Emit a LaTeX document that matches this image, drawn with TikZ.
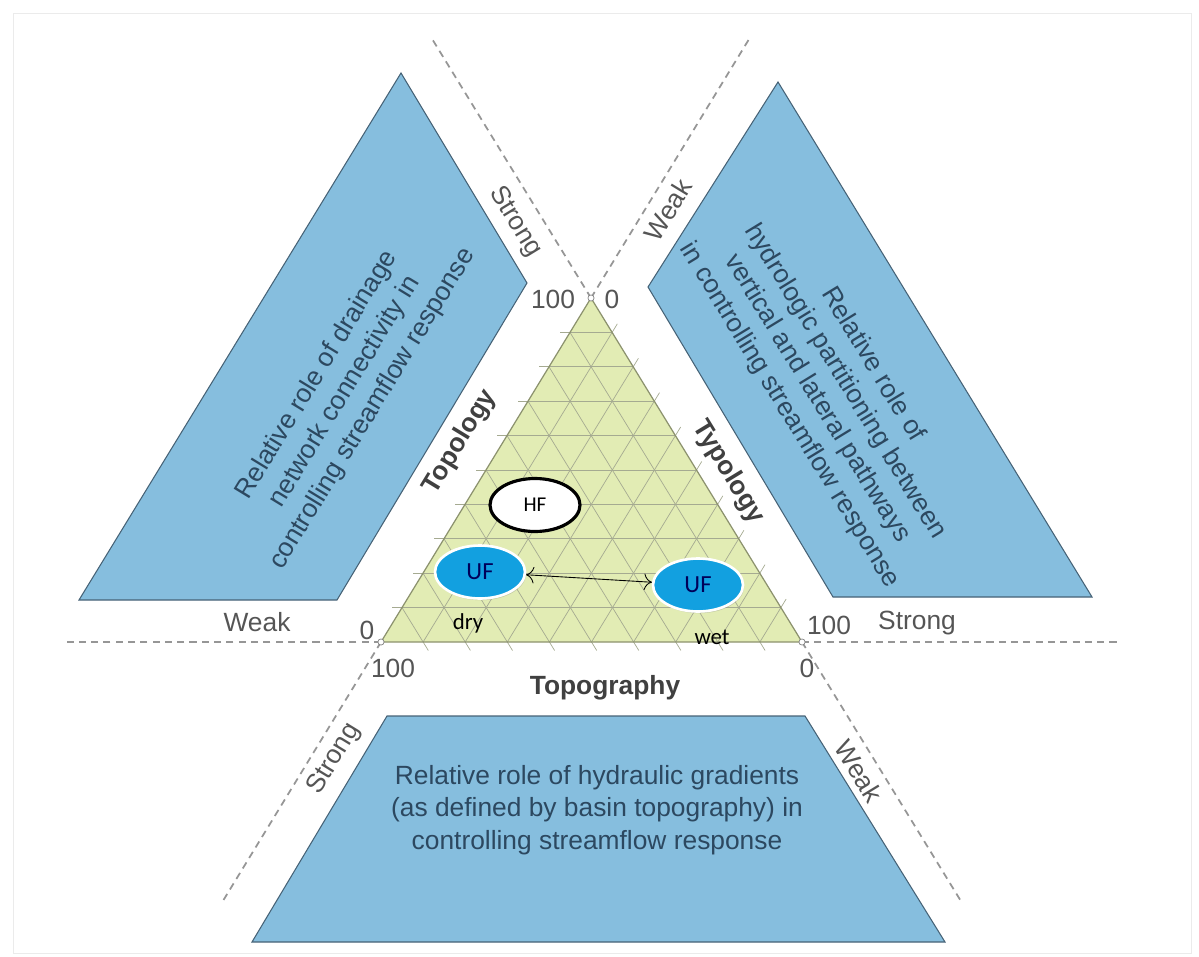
\documentclass[tikz,border=0pt]{standalone}
\usepackage{fontspec}
\setmainfont{Liberation Sans}
\newfontfamily\calib{Carlito}
\usetikzlibrary{calc,shapes.geometric,arrows.meta,shadows}
\definecolor{boxblue}{RGB}{134,190,222}
\definecolor{boxline}{RGB}{70,98,118}
\definecolor{boxtext}{RGB}{44,72,96}
\definecolor{ternfill}{RGB}{226,236,180}
\definecolor{ternline}{RGB}{140,146,110}
\definecolor{gridgray}{RGB}{165,170,145}
\definecolor{labelgray}{RGB}{85,85,85}
\definecolor{ufblue}{RGB}{18,160,224}
\definecolor{dashgray}{RGB}{150,150,150}
\tikzset{
	rolebox/.style={fill=boxblue, draw=boxline, line width=0.6pt},
	roletext/.style={text=boxtext, align=center, font=\fontsize{15}{18.5}\selectfont},
	scale label/.style={text=labelgray, font=\fontsize{15}{18}\selectfont},
	axis label/.style={text=black!75, font=\fontsize{15}{18}\selectfont\bfseries},
	extension/.style={dashgray, dash pattern=on 4pt off 3pt, line width=1pt},
	gridline/.style={gridgray, line width=0.4pt},
	flowtype/.style={ellipse, minimum width=1.8cm, minimum height=1.06cm, inner sep=0pt},
	uf/.style={flowtype, fill=ufblue, draw=white, line width=1.5pt, text=blue!35!black, font=\calib\fontsize{14}{16}\selectfont, drop shadow={opacity=0.3, shadow xshift=0.6pt, shadow yshift=-1pt}},
	hf/.style={flowtype, fill=white, draw=black, line width=1.8pt, font=\calib\fontsize{12}{14}\selectfont},
	vertex/.style={circle, draw=gray, fill=white, inner sep=0pt, minimum size=3.5pt},
	wetness/.style={font=\calib\fontsize{13}{15}\selectfont}
}
\begin{document}
\begin{tikzpicture}[x=0.02cm, y=-0.02cm]
		\useasboundingbox (0,0) rectangle (1199,956);
		\draw[black!8] (13,13) rectangle (1191,953);
		
		\coordinate (L) at (381,642);
		\coordinate (R) at (802,642);
		\coordinate (A) at (591,298);
		
		\draw[rolebox] (79,600) -- (401,73) -- (527,283) -- (337,600) -- cycle;
		\draw[rolebox] (1092,597) -- (778,82) -- (648,287) -- (833,597) -- cycle;
		\draw[rolebox] (252,942) -- (387,716) -- (805,716) -- (945,942) -- cycle;
		
		\foreach \p/\q in {L/R, R/L, A/R, R/A, A/L, L/A}
			\draw[extension] (\p) -- ($(\p)!-0.75!(\q)$);
		
		\fill[ternfill] (L) -- (R) -- (A) -- cycle;
		\foreach \i in {1,...,9}{
			\coordinate (b\i) at ($(L)!\i/10!(R)$);
			\coordinate (l\i) at ($(L)!\i/10!(A)$);
			\coordinate (r\i) at ($(R)!\i/10!(A)$);
			\coordinate (c\i) at ($(A)!\i/10!(R)$);
			\draw[gridline] ($(l\i)!-0.2cm!(r\i)$) -- (r\i);
			\draw[gridline] ($(b\i)!-0.2cm!(l\i)$) -- (l\i);
			\draw[gridline] (b\i) -- ($(c\i)!-0.2cm!(b\i)$);
		}
		\draw[ternline, line width=0.7pt] (L) -- (R) -- (A) -- cycle;
		\node[vertex] (vL) at (L) {};
		\node[vertex] (vR) at (R) {};
		\node[vertex] (vA) at (A) {};
		
		\node[scale label] (topmax) at (553,299) {100};
		\node[scale label] (topmin) at (612,299) {0};
		\node[scale label] (leftmin) at (367,630) {0};
		\node[scale label] (leftmax) at (393,668) {100};
		\node[scale label] (rightmax) at (829,625) {100};
		\node[scale label] (rightmin) at (807,668) {0};
		
		\node[scale label] (weakW) at (257,622) {Weak};
		\node[scale label] (strongE) at (917,623) {Strong};
		\node[scale label, rotate=-58.6] (strongN) at (515,222) {Strong};
		\node[scale label, rotate=58.6] (weakN) at (668,210) {Weak};
		\node[scale label, rotate=58.6] (strongS) at (334,759) {Strong};
		\node[scale label, rotate=-58.6] (weakS) at (859,771) {Weak};
		
		\node[axis label, rotate=58.6] (topology) at (460,442) {Topology};
		\node[axis label, rotate=-58.6] (typology) at (728,472) {Typology};
		\node[axis label] (topography) at (605,688) {Topography};
		
		\node[roletext, rotate=58.6] (drainage) at (345,392) {Relative role of drainage\\network connectivity in\\controlling streamflow response};
		\node[roletext, rotate=-58.6] (partition) at (831,390) {Relative role of\\hydrologic partitioning between\\vertical and lateral pathways\\in controlling streamflow response};
		\node[roletext] (gradient) at (597,810) {Relative role of hydraulic gradients\\(as defined by basin topography) in\\controlling streamflow response};
		
		\node[hf] (hf) at (535,505) {HF};
		\node[uf] (ufdry) at (480,572) {UF};
		\node[uf] (ufwet) at (698,585) {UF};
		\draw[{To[length=4.5pt]}-{To[length=4.5pt]}, line width=0.5pt] (ufdry) -- (ufwet);
		\node[wetness] (dry) at (468,623) {dry};
		\node[wetness] (wet) at (712,637) {wet};
	\end{tikzpicture}
\end{document}
